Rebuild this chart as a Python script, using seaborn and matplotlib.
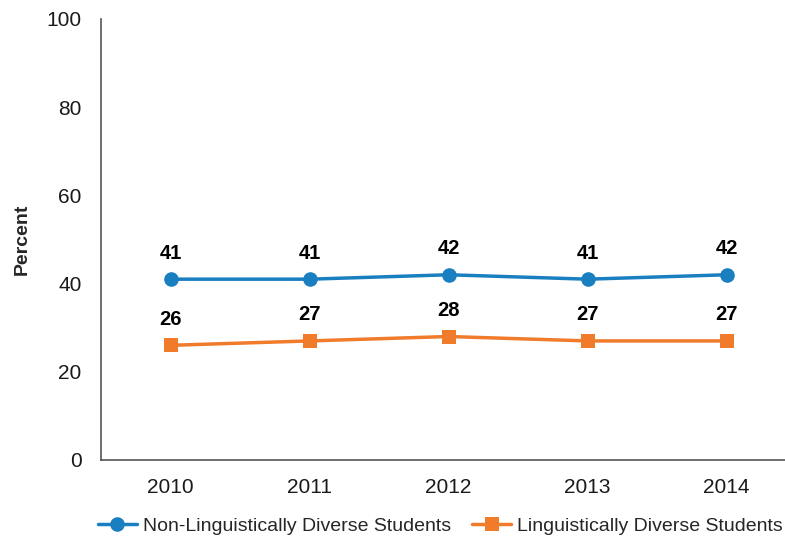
import matplotlib
matplotlib.use("Agg")
import matplotlib.pyplot as plt
import seaborn as sns
import pandas as pd

years = ["2010", "2011", "2012", "2013", "2014"]
non_ld = [41, 41, 42, 41, 42]
ld = [26, 27, 28, 27, 27]
series_names = ["Non-Linguistically Diverse Students", "Linguistically Diverse Students"]
y_ticks = [0, 20, 40, 60, 80, 100]

colors = {series_names[0]: "#1a7fc1", series_names[1]: "#f07b2b"}
markers = {series_names[0]: "o", series_names[1]: "s"}

df = pd.DataFrame({
    "Year": years * 2,
    "Percent": non_ld + ld,
    "Group": [series_names[0]] * len(years) + [series_names[1]] * len(years),
})
df["x"] = df["Year"].map({y: i for i, y in enumerate(years)})

sns.set_style("white")
plt.rcParams["font.family"] = ["Liberation Sans", "DejaVu Sans"]

fig = plt.figure(figsize=(7.85, 5.38), dpi=100)
ax = fig.add_axes([0.1287, 0.145, 0.8713, 0.8197])

sns.lineplot(data=df, x="x", y="Percent", hue="Group", style="Group",
             hue_order=series_names, style_order=series_names,
             palette=colors, markers=markers, dashes=False,
             linewidth=2.5, markersize=10.5, markeredgewidth=0,
             ax=ax, legend=True)

for vals in (non_ld, ld):
    for i, v in enumerate(vals):
        ax.annotate(str(v), (i, v), xytext=(0, 12), textcoords="offset points",
                    ha="center", va="bottom", fontsize=14.5, fontweight="bold",
                    color="black")

ax.set_xlim(-0.5, 4.42)
ax.set_ylim(0, 100)
ax.set_xticks(range(len(years)))
ax.set_xticklabels(years)
ax.set_yticks(y_ticks)
ax.tick_params(axis="both", length=0, labelsize=15, colors="#1a1a1a")
ax.tick_params(axis="x", pad=13)
ax.tick_params(axis="y", pad=14)
ax.set_xlabel("")
ax.set_ylabel("Percent", fontsize=14, fontweight="bold", labelpad=11)

for side in ("top", "right"):
    ax.spines[side].set_visible(False)
for side in ("left", "bottom"):
    ax.spines[side].set_color("#555555")
    ax.spines[side].set_linewidth(1.2)

ax.legend(handles=ax.get_legend().legend_handles, labels=series_names,
          loc="upper center", bbox_to_anchor=(0.496, -0.122), ncol=2, frameon=False,
          fontsize=14, handlelength=2.0, handletextpad=0.3, columnspacing=1.1,
          borderaxespad=0, borderpad=0.2)

fig.savefig("out.png", dpi=100)
